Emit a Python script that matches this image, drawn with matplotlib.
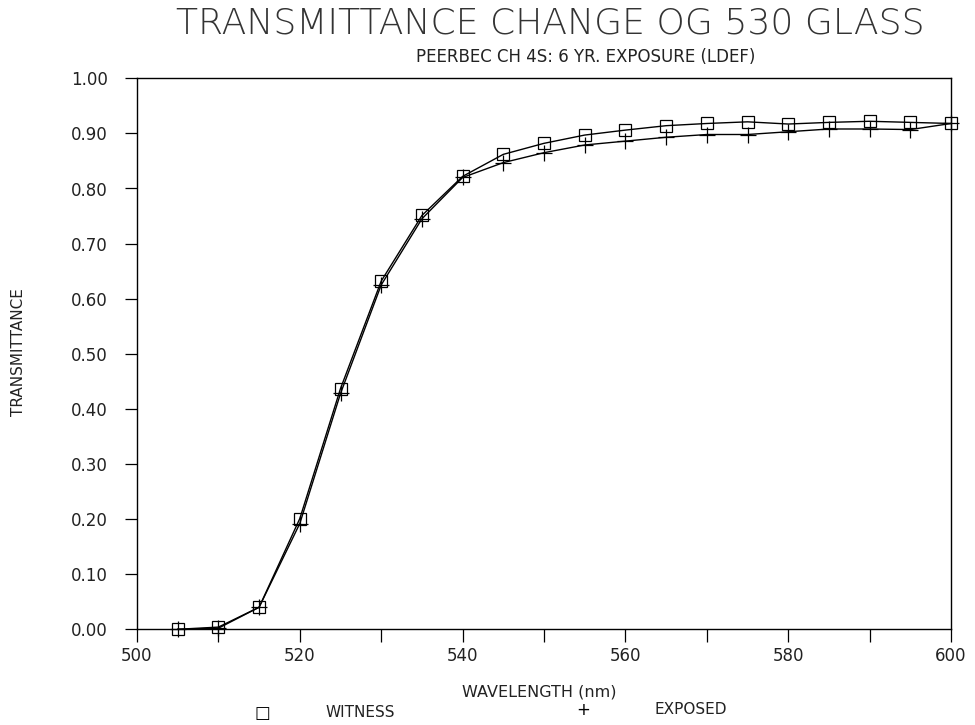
import matplotlib
matplotlib.use("Agg")
import matplotlib.pyplot as plt
from matplotlib.ticker import MultipleLocator

# data
wavelength = [505, 510, 515, 520, 525, 530, 535, 540, 545, 550,
              555, 560, 565, 570, 575, 580, 585, 590, 595, 600]
witness = [0.000, 0.004, 0.040, 0.201, 0.437, 0.632, 0.751, 0.822, 0.862, 0.882,
           0.897, 0.906, 0.914, 0.918, 0.921, 0.917, 0.920, 0.922, 0.920, 0.918]
exposed = [0.000, 0.002, 0.040, 0.192, 0.428, 0.625, 0.745, 0.820, 0.847, 0.865,
           0.879, 0.886, 0.893, 0.898, 0.898, 0.903, 0.908, 0.908, 0.907, 0.918]
y_ticks = [0.0, 0.1, 0.2, 0.3, 0.4, 0.5, 0.6, 0.7, 0.8, 0.9, 1.0]
x_ticks = [500, 520, 540, 560, 580, 600]

plt.rcParams['font.family'] = ['DejaVu Sans']

fig = plt.figure(figsize=(9.75, 7.25), dpi=100)
ax = fig.add_axes([0.1405, 0.132, 0.835, 0.760])

ax.plot(wavelength, witness, color='black', lw=1.0, marker='s', markersize=9,
        markerfacecolor='none', markeredgewidth=0.9, clip_on=False)
ax.plot(wavelength, exposed, color='black', lw=1.0, marker='+', markersize=11,
        markeredgewidth=0.9, clip_on=False)

ax.set_xlim(500, 600)
ax.set_ylim(0, 1.0)
ax.set_xticks(x_ticks)
ax.xaxis.set_minor_locator(MultipleLocator(10))
ax.set_yticks(y_ticks)
ax.set_yticklabels([f"{v:.2f}" for v in y_ticks])

ax.tick_params(axis='both', which='both', direction='out', length=9, width=0.9,
               labelsize=12, colors='black', labelcolor='#222222')
ax.tick_params(axis='x', pad=4)
ax.tick_params(axis='y', pad=12)
for s in ax.spines.values():
    s.set_linewidth(1.0)

fig.text(0.564, 0.968, "TRANSMITTANCE CHANGE OG 530 GLASS", ha='center', va='center',
         fontsize=26, fontweight='light', color='#333333')
fig.text(0.601, 0.921, "PEERBEC CH 4S: 6 YR. EXPOSURE (LDEF)", ha='center', va='center',
         fontsize=12, color='#222222')
fig.text(0.019, 0.514, "TRANSMITTANCE", rotation=90, ha='center', va='center',
         fontsize=11, color='#222222')
fig.text(0.553, 0.046, "WAVELENGTH (nm)", ha='center', va='center',
         fontsize=11.5, color='#222222')

# legend row under the axis label
fig.text(0.269, 0.017, "\u25a1", ha='center', va='center', fontsize=12)
fig.text(0.370, 0.017, "WITNESS", ha='center', va='center', fontsize=11, color='#222222')
fig.text(0.598, 0.021, "+", ha='center', va='center', fontsize=12)
fig.text(0.708, 0.021, "EXPOSED", ha='center', va='center', fontsize=11, color='#222222')

fig.savefig("out.png", dpi=100)
